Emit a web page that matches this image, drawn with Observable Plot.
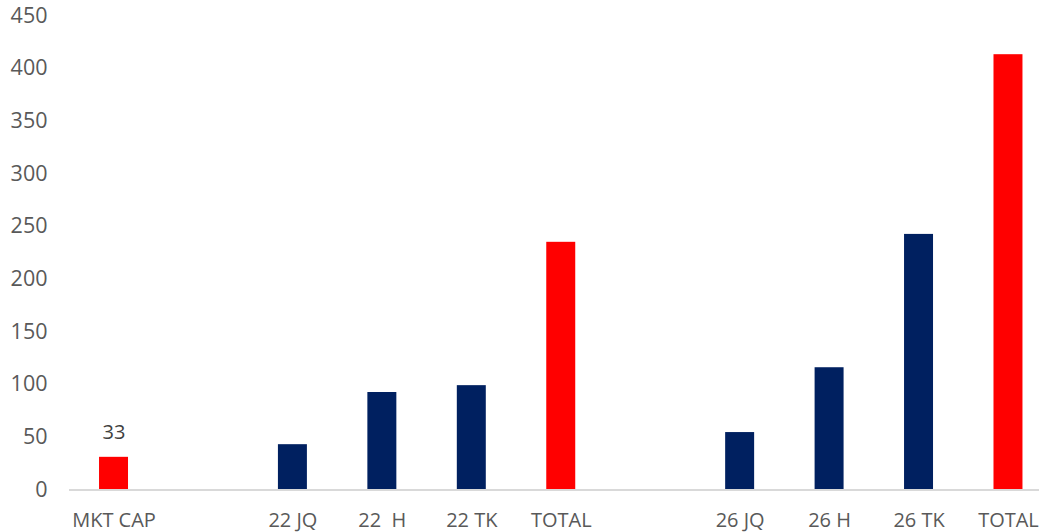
<!DOCTYPE html>
<html>
<head>
<meta charset="utf-8">
<script src="https://cdn.jsdelivr.net/npm/d3@7"></script>
<script src="https://cdn.jsdelivr.net/npm/@observablehq/plot@0.6"></script>
<style>
  html, body { margin: 0; padding: 0; background: #fff; }
  #chart svg { white-space: pre; }
</style>
</head>
<body>
<div id="chart"></div>
<script>
// Categories (blank entries are gap slots between groups)
const categories = ["MKT CAP", "", "22 JQ", "22  H", "22 TK", "TOTAL", "", "26 JQ", "26 H", "26 TK", "TOTAL"];
const values     = [31, null, 43, 92.5, 99, 235, null, 54.5, 116, 242.5, 413];
const kinds      = ["total", null, "part", "part", "part", "total", null, "part", "part", "part", "total"];
const dataLabels = ["33", "", "", "", "", "", "", "", "", "", ""];
const yTicks     = [0, 50, 100, 150, 200, 250, 300, 350, 400, 450];

const keys = categories.map((c, i) => i + "|" + c);
const rows = keys.map((k, i) => ({key: k, label: categories[i], value: values[i], kind: kinds[i], dl: dataLabels[i]}));
const bars = rows.filter(d => d.value != null);
const labelRows = rows.filter(d => d.dl !== "");

const font = "'Open Sans', 'Noto Sans', sans-serif";
const textColor = "#595959";

const chart = Plot.plot({
  width: 1039,
  height: 532,
  marginLeft: 69,
  marginRight: 0,
  marginTop: 15.2,
  marginBottom: 42.5,
  style: {fontFamily: font, color: textColor, background: "#fff", whiteSpace: "pre"},
  x: {domain: keys, range: [68.8, 1052.7], round: false, paddingInner: 0.676, paddingOuter: 0.338, label: null},
  y: {domain: [0, 450], label: null},
  color: {domain: ["total", "part"], range: ["#FF0000", "#002060"]},
  marks: [
    Plot.axisY({ticks: yTicks, tickSize: 0, tickPadding: 22, fontSize: 21.5, fill: textColor, label: null}),
    Plot.axisX({tickSize: 0, tickPadding: 23, fontSize: 20, fill: textColor, label: null,
      tickFormat: k => k.slice(k.indexOf("|") + 1)}),
    Plot.barY(bars, {x: "key", y: "value", fill: "kind"}),
    Plot.ruleY([0], {stroke: "#D9D9D9", strokeWidth: 2}),
    Plot.text(labelRows, {x: "key", y: "value", text: "dl", dy: -25, fontSize: 20, fill: "#404040", fontFamily: font})
  ]
});

document.getElementById("chart").appendChild(chart);
</script>
</body>
</html>
